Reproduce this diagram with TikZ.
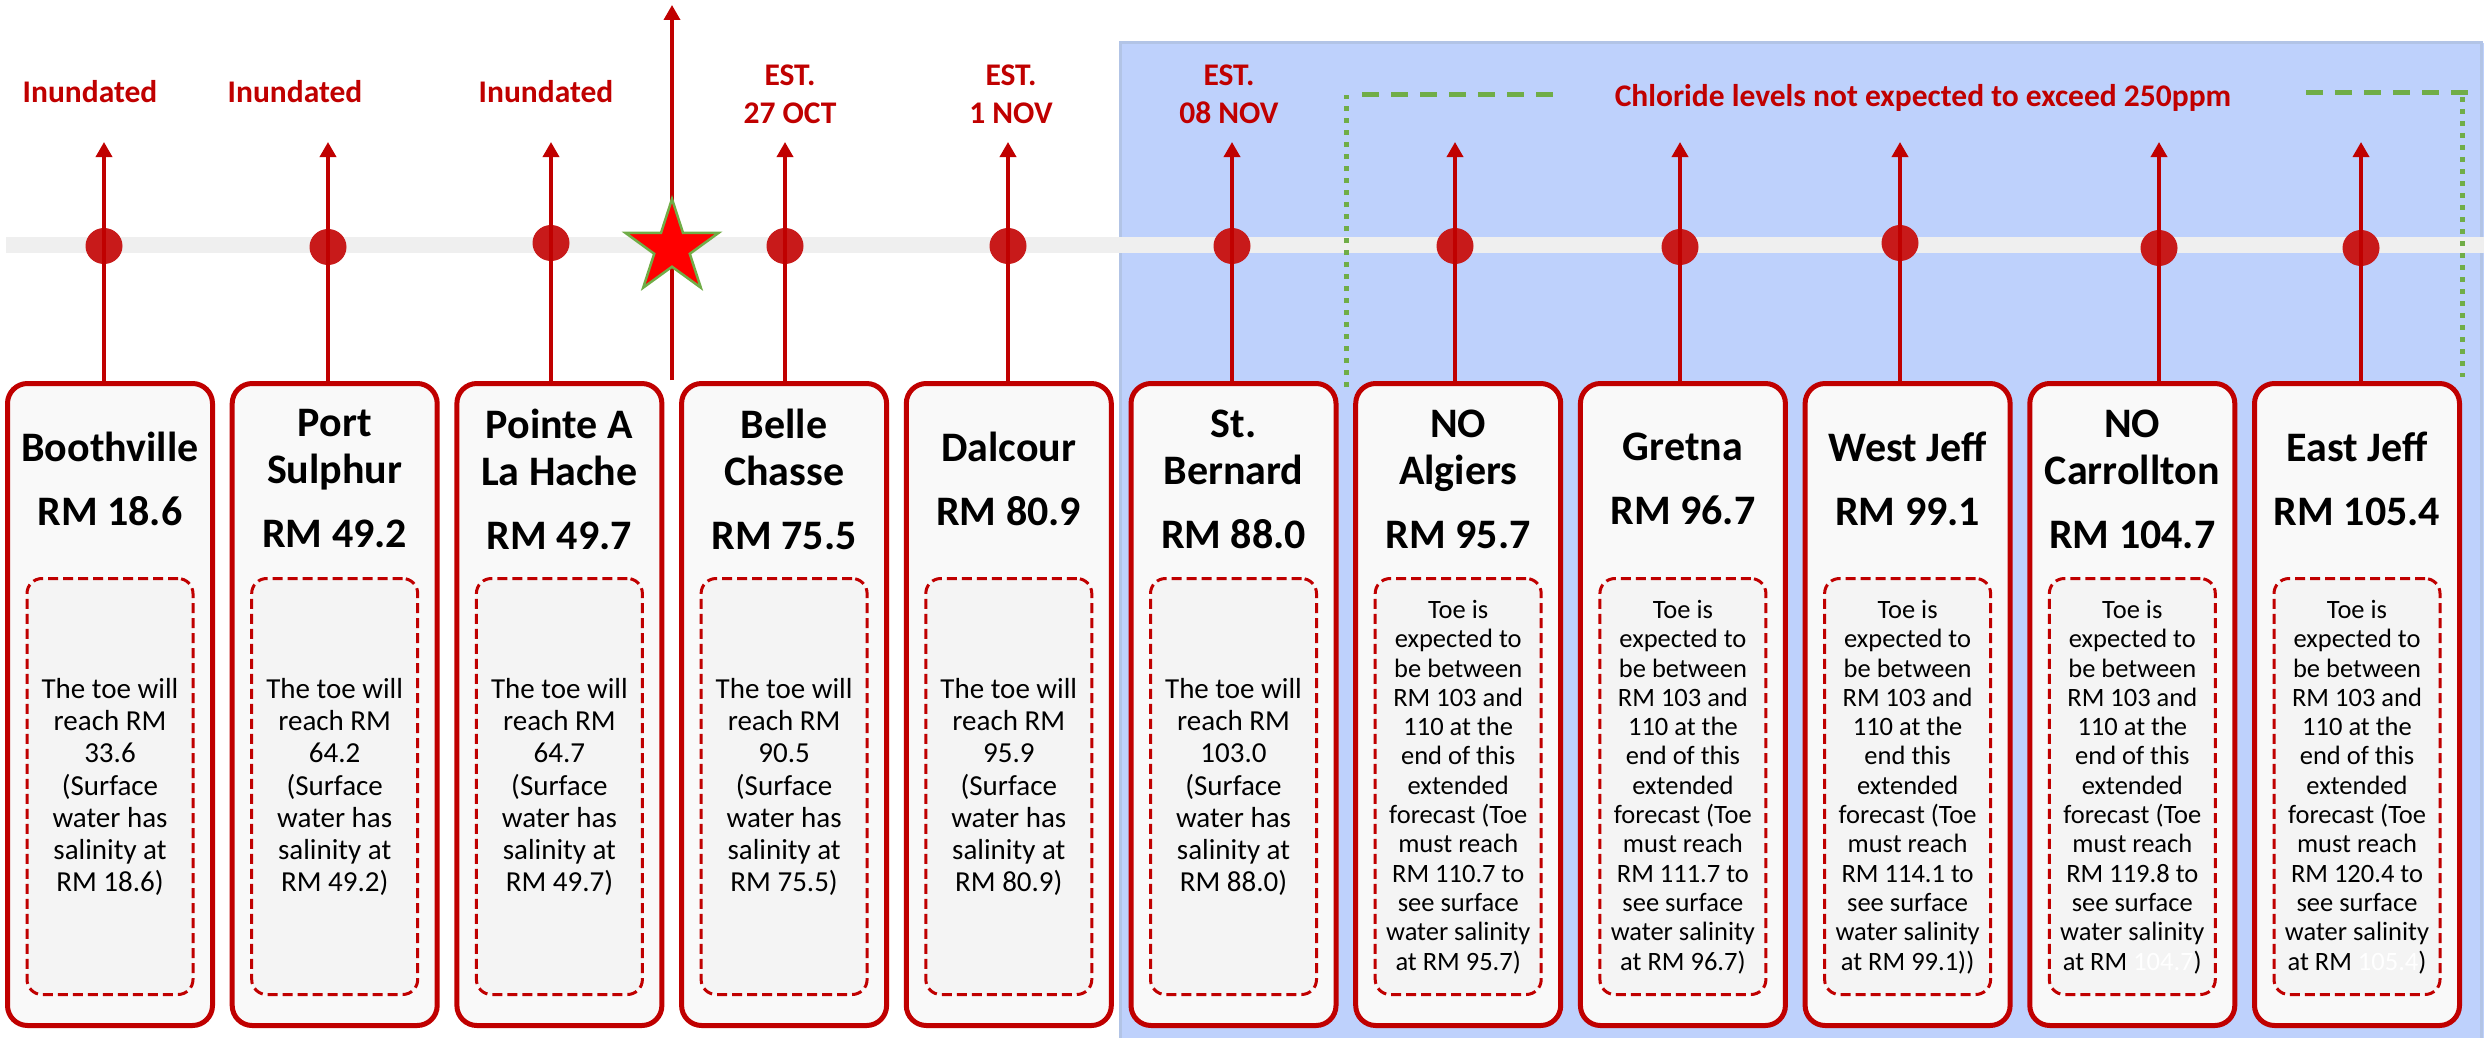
\documentclass[tikz,border=0pt]{standalone}
\usepackage{fontspec}
\setmainfont{Carlito}
\usetikzlibrary{arrows.meta,shapes.geometric}
\definecolor{dred}{RGB}{192,0,0}
\definecolor{dotred}{RGB}{200,26,26}
\definecolor{band}{RGB}{239,239,239}
\definecolor{bluebg}{RGB}{190,209,252}
\definecolor{blueedge}{RGB}{178,196,230}
\definecolor{grn}{RGB}{112,173,71}
\definecolor{boxfill}{RGB}{249,249,249}
\definecolor{innerfill}{RGB}{244,244,244}
\newcommand{\stn}[5]{%
  \node[outerbox] (#1) at (#2,704.5) {};
  \node[innerbox] (#1in) at (#2,786.5) {};
  \node[titletext] (#1t) at (#2,479) {#3};
  \node[#4] (#1b) at (#2,787) {#5};
}
\newcommand{\tip}[4]{% name, arrow x, dot y, box
  \node[dotmark] (#1d) at (#2,#3) {};
  \coordinate (#1a) at (#2,142);
  \draw[redarrow] (#4.north -| #1a) -- (#1a);
}
\begin{document}
\begin{tikzpicture}[x=1pt,y=-1pt,
  outerbox/.style={draw=dred, line width=5pt, fill=boxfill, rounded corners=20pt,
    minimum width=205pt, minimum height=642pt, inner sep=0pt},
  innerbox/.style={draw=dred, line width=3pt, fill=innerfill, rounded corners=15pt,
    dash pattern=on 10pt off 5pt, minimum width=166pt, minimum height=416pt, inner sep=0pt},
  titletext/.style={font=\fontsize{42}{47}\selectfont\bfseries, align=center, inner sep=0pt},
  bodyL/.style={font=\fontsize{29}{32.2}\selectfont, align=center, inner sep=0pt},
  bodyR/.style={font=\fontsize{26.5}{29.3}\selectfont, align=center, inner sep=0pt},
  lab/.style={text=dred, font=\fontsize{31.5}{38}\selectfont\bfseries, align=center, inner sep=0pt},
  dotmark/.style={ellipse, fill=dotred, minimum width=37pt, minimum height=36pt, inner sep=0pt},
  redarrow/.style={draw=dred, line width=3.5pt, -{Triangle[length=15pt,width=16pt]}},
  gdash/.style={draw=grn, line width=5pt, dash pattern=on 17pt off 12pt},
  gdot/.style={draw=grn, line width=5pt, dash pattern=on 5pt off 7pt},
]
\useasboundingbox (0,0) rectangle (2484,1038);
\fill[white] (0,0) rectangle (2484,1038);
% blue region
\fill[bluebg] (1120,43) rectangle (2484,1038);
\draw[blueedge, line width=3pt] (1120,1038) -- (1120,43) -- (2481,43) -- (2481,1038);
% grey band
\fill[band] (6,237) rectangle (2484,253);
% green bracket
\coordinate (gl1) at (1346,387);
\coordinate (gl2) at (1346,95);
\coordinate (gl3) at (1362,95);
\coordinate (gl4) at (1553,95);
\coordinate (gr1) at (2306,93);
\coordinate (gr2) at (2468,93);
\coordinate (gr3) at (2462,97);
\coordinate (gr4) at (2462,377);
\draw[gdot] (gl1) -- (gl2);
\draw[gdash] (gl3) -- (gl4);
\draw[gdash] (gr1) -- (gr2);
\draw[gdot] (gr3) -- (gr4);
% boxes
\stn{b1}{110}{Boothville\\[17pt]RM 18.6}{bodyL}{The toe will\\reach RM\\33.6\\(Surface\\water has\\salinity at\\RM 18.6)}
\stn{b2}{334.7}{Port\\Sulphur\\[17pt]RM 49.2}{bodyL}{The toe will\\reach RM\\64.2\\(Surface\\water has\\salinity at\\RM 49.2)}
\stn{b3}{559.4}{Pointe A\\La Hache\\[17pt]RM 49.7}{bodyL}{The toe will\\reach RM\\64.7\\(Surface\\water has\\salinity at\\RM 49.7)}
\stn{b4}{784.1}{Belle\\Chasse\\[17pt]RM 75.5}{bodyL}{The toe will\\reach RM\\90.5\\(Surface\\water has\\salinity at\\RM 75.5)}
\stn{b5}{1008.8}{Dalcour\\[17pt]RM 80.9}{bodyL}{The toe will\\reach RM\\95.9\\(Surface\\water has\\salinity at\\RM 80.9)}
\stn{b6}{1233.5}{St.\\Bernard\\[17pt]RM 88.0}{bodyL}{The toe will\\reach RM\\103.0\\(Surface\\water has\\salinity at\\RM 88.0)}
\stn{b7}{1458.2}{NO\\Algiers\\[17pt]RM 95.7}{bodyR}{Toe is\\expected to\\be between\\RM 103 and\\110 at the\\end of this\\extended\\forecast (Toe\\must reach\\RM 110.7 to\\see surface\\water salinity\\at RM 95.7)}
\stn{b8}{1682.9}{Gretna\\[17pt]RM 96.7}{bodyR}{Toe is\\expected to\\be between\\RM 103 and\\110 at the\\end of this\\extended\\forecast (Toe\\must reach\\RM 111.7 to\\see surface\\water salinity\\at RM 96.7)}
\stn{b9}{1907.6}{West Jeff\\[17pt]RM 99.1}{bodyR}{Toe is\\expected to\\be between\\RM 103 and\\110 at the\\end this\\extended\\forecast (Toe\\must reach\\RM 114.1 to\\see surface\\water salinity\\at RM 99.1))}
\stn{b10}{2132.3}{NO\\Carrollton\\[17pt]RM 104.7}{bodyR}{Toe is\\expected to\\be between\\RM 103 and\\110 at the\\end of this\\extended\\forecast (Toe\\must reach\\RM 119.8 to\\see surface\\water salinity\\at RM \textcolor{white}{104.7})}
\stn{b11}{2357}{East Jeff\\[17pt]RM 105.4}{bodyR}{Toe is\\expected to\\be between\\RM 103 and\\110 at the\\end of this\\extended\\forecast (Toe\\must reach\\RM 120.4 to\\see surface\\water salinity\\at RM \textcolor{white}{105.4})}
% timeline marks and arrows
\tip{t1}{104}{246}{b1}
\tip{t2}{328}{247}{b2}
\tip{t3}{551}{243}{b3}
\tip{t4}{785}{246}{b4}
\tip{t5}{1008}{246}{b5}
\tip{t6}{1232}{246}{b6}
\tip{t7}{1455}{246}{b7}
\tip{t8}{1680}{247}{b8}
\tip{t9}{1900}{243}{b9}
\tip{t10}{2159}{248}{b10}
\tip{t11}{2361}{248}{b11}
% star marker
\coordinate (sbot) at (672,380);
\coordinate (stop) at (672,5);
\draw[redarrow] (sbot) -- (stop);
\node[star, star points=5, star point ratio=2.618, minimum size=98pt, inner sep=0pt,
  fill=red, draw=grn, line width=2.5pt] (star) at (672,248) {};
% labels
\node[lab, anchor=base] (l1) at (90,103) {Inundated};
\node[lab, anchor=base] (l2) at (295,103) {Inundated};
\node[lab, anchor=base] (l3) at (546,103) {Inundated};
\node[lab] (l4) at (790,94) {EST.\\27 OCT};
\node[lab] (l5) at (1011,94) {EST.\\1 NOV};
\node[lab] (l6) at (1229,94) {EST.\\08 NOV};
\node[lab, anchor=base] (l7) at (1923,107) {Chloride levels not expected to exceed 250ppm};
\end{tikzpicture}
\end{document}
